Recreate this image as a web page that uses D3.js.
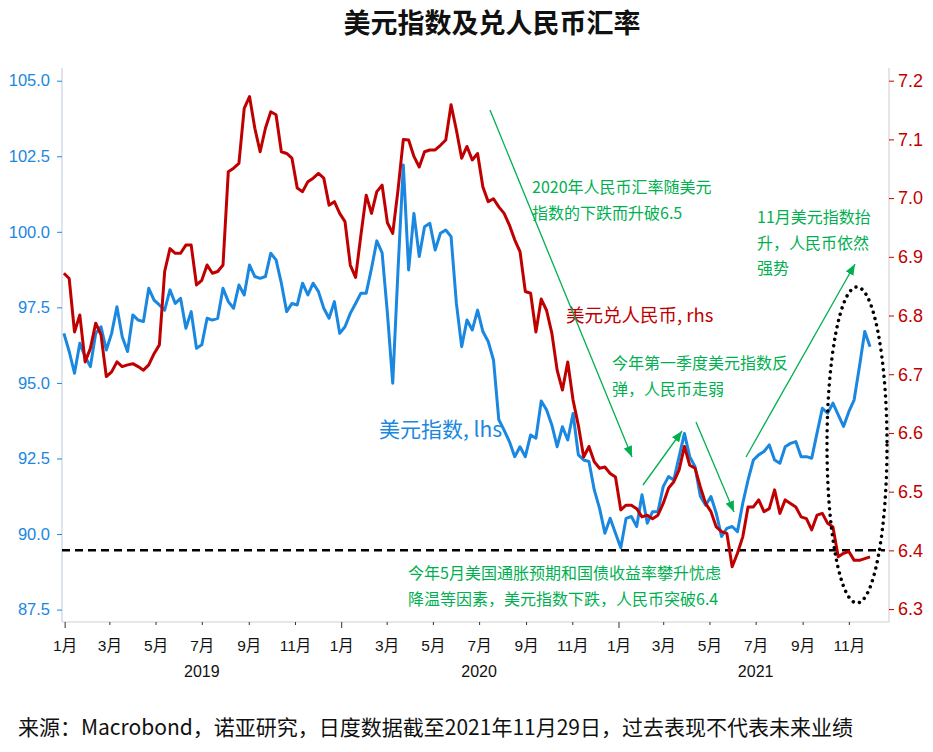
<!DOCTYPE html>
<html><head><meta charset="utf-8">
<script src="https://cdn.jsdelivr.net/npm/d3@7"></script>
<style>
html,body{margin:0;padding:0;background:#fff;}
svg{display:block;}
</style></head><body>
<svg id="chart" width="933" height="752"></svg>
<script>
// ---------- data ----------
const titleText = "美元指数及兑人民币汇率";
const footerText = "来源：Macrobond，诺亚研究，日度数据截至2021年11月29日，过去表现不代表未来业绩";
const dxyLabel = "美元指数, lhs";
const cnyLabel = "美元兑人民币, rhs";
const firstWeek = "2018-12-31"; // weekly observations (Mondays) through 2021-11-29

const dxy = [
96.64,96.04,95.32,96.31,95.87,95.54,96.64,96.86,96.09,96.64,
97.52,96.53,96.04,97.25,97.08,97.03,98.13,97.74,97.58,97.41,
98.08,97.63,97.80,96.81,97.36,96.15,96.26,97.14,97.08,97.14,
98.13,97.69,97.47,98.24,97.91,98.90,98.52,98.46,98.52,99.29,
99.07,98.30,97.36,97.63,97.58,98.30,97.91,98.30,98.02,97.47,
97.14,97.69,96.64,96.86,97.30,97.63,97.97,97.97,98.79,99.70,
99.30,97.30,94.99,98.74,102.21,98.74,100.61,99.18,100.17,100.28,
99.40,99.95,100.06,99.84,97.64,96.20,97.08,96.75,97.41,96.70,
96.37,95.76,93.78,93.44,93.06,92.56,92.89,92.56,93.28,93.17,
94.40,94.11,93.61,92.89,93.55,93.11,93.99,92.62,92.45,92.40,
91.46,90.85,90.03,90.52,90.03,89.55,90.52,90.58,90.25,91.30,
90.36,90.74,90.74,91.57,91.90,91.79,92.56,93.33,92.56,92.23,
91.25,90.95,91.24,90.69,89.92,90.19,90.25,90.08,91.02,91.79,
92.45,92.62,92.73,92.95,92.45,92.34,92.89,93.00,93.06,92.56,
92.56,92.51,93.34,94.16,94.00,94.33,93.94,93.56,94.05,94.44,
95.54,96.70,96.20
];
const usdcny = [
6.872,6.863,6.772,6.801,6.721,6.744,6.787,6.767,6.696,6.704,
6.721,6.713,6.716,6.718,6.713,6.707,6.716,6.735,6.750,6.875,
6.914,6.906,6.906,6.920,6.920,6.852,6.860,6.886,6.872,6.875,
6.886,7.045,7.051,7.059,7.153,7.173,7.119,7.079,7.119,7.147,
7.142,7.079,7.076,7.068,7.017,7.011,7.028,7.034,7.042,7.034,
6.988,6.994,6.974,6.960,6.886,6.865,6.937,7.005,6.974,7.011,
7.022,6.958,6.940,7.014,7.100,7.099,7.071,7.053,7.079,7.082,
7.082,7.090,7.099,7.159,7.116,7.068,7.088,7.065,7.076,7.019,
6.994,6.999,6.985,6.974,6.954,6.929,6.909,6.841,6.838,6.772,
6.828,6.809,6.770,6.707,6.673,6.721,6.656,6.613,6.559,6.577,
6.551,6.540,6.542,6.531,6.525,6.469,6.477,6.477,6.471,6.457,
6.460,6.454,6.460,6.480,6.506,6.517,6.537,6.577,6.545,6.540,
6.508,6.480,6.466,6.440,6.432,6.429,6.372,6.395,6.423,6.474,
6.474,6.486,6.466,6.471,6.503,6.463,6.486,6.480,6.474,6.457,
6.454,6.435,6.460,6.463,6.446,6.440,6.389,6.395,6.398,6.383,
6.383,6.386,6.389
];
const leftTicks = [87.5, 90.0, 92.5, 95.0, 97.5, 100.0, 102.5, 105.0];
const rightTicks = [6.3, 6.4, 6.5, 6.6, 6.7, 6.8, 6.9, 7.0, 7.1, 7.2];
const yearLabels = ["2019", "2020", "2021"];
const refLevel = 6.4; // dashed reference line (rhs)

// ---------- layout ----------
const W = 933, H = 752;
const M = {left: 62, right: 889, top: 68, bottom: 622};
const BLUE = "#1a87e0", RED = "#c00000", GREEN = "#00b050";
const parse = d3.timeParse("%Y-%m-%d");
const start = parse(firstWeek);
const dates = dxy.map((_, i) => d3.timeDay.offset(start, 7 * i));

const x = d3.scaleTime()
  .domain([new Date(2018, 11, 28, 12), new Date(2021, 11, 24)])
  .range([M.left, M.right]);
const yL = d3.scaleLinear().domain([87.09, 105.42]).range([M.bottom, M.top]);
const yR = d3.scaleLinear().domain([6.278, 7.2216]).range([M.bottom, M.top]);

const svg = d3.select("#chart");
svg.append("rect").attr("width", W).attr("height", H).attr("fill", "#fff");

// title
svg.append("text").attr("x", 492).attr("y", 33).attr("text-anchor", "middle")
  .attr("font-family", "'Noto Sans CJK SC'").attr("font-weight", "bold")
  .attr("font-size", 27).attr("fill", "#111").text(titleText);

// footer
svg.append("text").attr("x", 18).attr("y", 735)
  .attr("font-family", "'Noto Sans CJK SC'").attr("font-size", 21)
  .attr("fill", "#111").text(footerText);

// axes frame
const g = svg.append("g");
g.append("line").attr("x1", M.left).attr("x2", M.left).attr("y1", M.top).attr("y2", M.bottom)
  .attr("stroke", "#c9d3e3").attr("stroke-width", 1.2);
g.append("line").attr("x1", M.right).attr("x2", M.right).attr("y1", M.top).attr("y2", M.bottom)
  .attr("stroke", "#d9d2d2").attr("stroke-width", 1.2);
g.append("line").attr("x1", M.left).attr("x2", M.right).attr("y1", M.bottom).attr("y2", M.bottom)
  .attr("stroke", "#cfcfcf").attr("stroke-width", 1.2);

// left axis
const axL = d3.axisLeft(yL).tickValues(leftTicks).tickFormat(d3.format(".1f")).tickSize(5).tickPadding(7);
const gL = g.append("g").attr("transform", `translate(${M.left},0)`).call(axL);
gL.select(".domain").remove();
gL.selectAll(".tick line").attr("stroke", BLUE);
gL.selectAll(".tick text").attr("fill", BLUE).attr("font-size", 16.5)
  .attr("font-family", "'Liberation Sans', Arial, sans-serif");

// right axis
const axR = d3.axisRight(yR).tickValues(rightTicks).tickFormat(d3.format(".1f")).tickSize(5).tickPadding(4);
const gR = g.append("g").attr("transform", `translate(${M.right},0)`).call(axR);
gR.select(".domain").remove();
gR.selectAll(".tick line").attr("stroke", RED);
gR.selectAll(".tick text").attr("fill", RED).attr("font-size", 18)
  .attr("font-family", "'Liberation Sans', Arial, sans-serif");

// bottom axis: every second month
const monthTicks = d3.timeMonth.every(2).range(new Date(2019, 0, 1), new Date(2021, 11, 2));
const axB = d3.axisBottom(x).tickValues(monthTicks)
  .tickFormat(d => (d.getMonth() + 1) + "月").tickSize(3).tickPadding(15);
const gB = g.append("g").attr("transform", `translate(0,${M.bottom})`).call(axB);
gB.select(".domain").remove();
gB.selectAll(".tick line").attr("stroke", "#333")
  .attr("y2", d => d.getMonth() === 0 ? 6 : 3);
gB.selectAll(".tick text").attr("fill", "#111").attr("font-size", 15.5)
  .attr("font-family", "'Liberation Sans', 'Noto Sans CJK SC', sans-serif");

g.selectAll(".year").data(yearLabels).join("text").attr("class", "year")
  .attr("x", d => x(new Date(+d, 6, 1))).attr("y", 677).attr("text-anchor", "middle")
  .attr("font-family", "'Liberation Sans', Arial, sans-serif").attr("font-size", 16)
  .attr("fill", "#111").text(d => d);

// reference dashed line
g.append("line").attr("x1", M.left).attr("x2", M.right - 4)
  .attr("y1", yR(refLevel)).attr("y2", yR(refLevel))
  .attr("stroke", "#000").attr("stroke-width", 2.5).attr("stroke-dasharray", "8,5");

// series lines
const lineL = d3.line().x((d, i) => x(dates[i])).y(d => yL(d));
const lineR = d3.line().x((d, i) => x(dates[i])).y(d => yR(d));
g.append("path").datum(dxy).attr("d", lineL).attr("fill", "none")
  .attr("stroke", BLUE).attr("stroke-width", 3).attr("stroke-linejoin", "round");
g.append("path").datum(usdcny).attr("d", lineR).attr("fill", "none")
  .attr("stroke", RED).attr("stroke-width", 3).attr("stroke-linejoin", "round");

// series labels
svg.append("text").attr("x", 379).attr("y", 437)
  .attr("font-family", "'Noto Sans CJK SC'").attr("font-size", 21)
  .attr("fill", BLUE).text(dxyLabel);
svg.append("text").attr("x", 566).attr("y", 322)
  .attr("font-family", "'Noto Sans CJK SC'").attr("font-size", 18.5)
  .attr("fill", RED).text(cnyLabel);

// annotations
const notes = [
  {x: 532, y: 193, lines: ["2020年人民币汇率随美元", "指数的下跌而升破6.5"]},
  {x: 757, y: 223, lines: ["11月美元指数抬", "升，人民币依然", "强势"]},
  {x: 612, y: 369, lines: ["今年第一季度美元指数反", "弹，人民币走弱"]},
  {x: 408, y: 579, lines: ["今年5月美国通胀预期和国债收益率攀升忧虑", "降温等因素，美元指数下跌，人民币突破6.4"]}
];
notes.forEach(n => {
  const t = svg.append("text").attr("font-family", "'Noto Sans CJK SC'")
    .attr("font-size", 16).attr("fill", GREEN);
  n.lines.forEach((l, i) => t.append("tspan").attr("x", n.x).attr("y", n.y + i * 25.5).text(l));
});

// arrows
const defs = svg.append("defs");
defs.append("marker").attr("id", "ah").attr("viewBox", "0 0 10 8")
  .attr("refX", 10).attr("refY", 4).attr("markerWidth", 11).attr("markerHeight", 9)
  .attr("markerUnits", "userSpaceOnUse").attr("orient", "auto")
  .append("path").attr("d", "M0,0 L10,4 L0,8 Z").attr("fill", GREEN);
const arrows = [
  [490, 110, 632, 457],
  [643, 485, 682, 431],
  [696, 422, 734, 512],
  [746, 457, 855, 264]
];
svg.selectAll(".arrow").data(arrows).join("line").attr("class", "arrow")
  .attr("x1", d => d[0]).attr("y1", d => d[1]).attr("x2", d => d[2]).attr("y2", d => d[3])
  .attr("stroke", GREEN).attr("stroke-width", 1.3).attr("marker-end", "url(#ah)");

// dotted ellipse
svg.append("ellipse").attr("cx", 857).attr("cy", 445).attr("rx", 30).attr("ry", 158)
  .attr("fill", "none").attr("stroke", "#000").attr("stroke-width", 3.5)
  .attr("stroke-linecap", "round").attr("stroke-dasharray", "0.01,6.5");
</script>
</body></html>
